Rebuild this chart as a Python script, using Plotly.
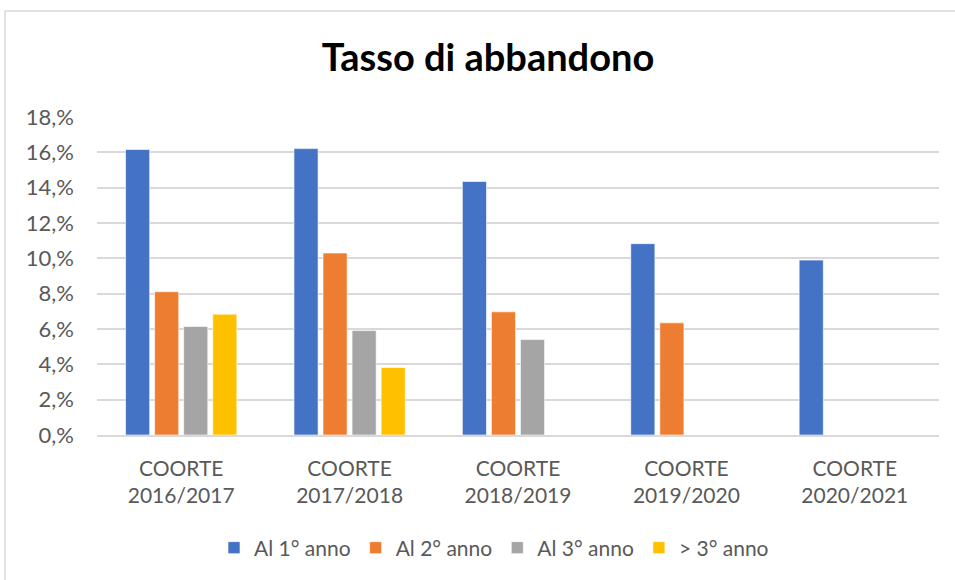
import plotly.graph_objects as go

categories = ["COORTE<br>2016/2017", "COORTE<br>2017/2018", "COORTE<br>2018/2019",
              "COORTE<br>2019/2020", "COORTE<br>2020/2021"]
series_names = ["Al 1° anno", "Al 2° anno", "Al 3° anno", "> 3° anno"]
al_1_anno = [16.16, 16.21, 14.35, 10.83, 9.90]
al_2_anno = [8.11, 10.30, 6.97, 6.35, None]
al_3_anno = [6.14, 5.91, 5.40, None, None]
oltre_3_anno = [6.84, 3.82, None, None, None]
tick_values = [0, 2, 4, 6, 8, 10, 12, 14, 16, 18]
tick_labels = [f"{v},%" for v in tick_values]

colors = ["#4472C4", "#ED7D31", "#A5A5A5", "#FFC000"]
series = [al_1_anno, al_2_anno, al_3_anno, oltre_3_anno]

FONT = "Lato"
fig = go.Figure()
for name, vals, col in zip(series_names, series, colors):
    fig.add_trace(go.Bar(
        x=categories, y=vals, name=name,
        marker=dict(color=col, line=dict(color="rgba(255,255,255,0.6)", width=1)),
    ))

# plot area in px: x 97..939, y 117..435
L, R, T, B = 97, 16, 117, 145
pw, ph = 955 - L - R, 580 - T - B

def px_x(x):
    return (x - L) / pw

def px_y(y):
    return (580 - B - y) / ph

fig.update_layout(
    width=955, height=580,
    margin=dict(l=L, r=R, t=T, b=B),
    paper_bgcolor="white", plot_bgcolor="white",
    barmode="group", bargap=0.31, bargroupgap=0.17,
    font=dict(family=FONT, color="#595959"),
    title=dict(text="<b>Tasso di abbandono</b>", x=0.511, xanchor="center",
               y=1 - 58 / 580, yanchor="middle", yref="container",
               font=dict(family=FONT, size=38, color="#000000")),
    showlegend=True,
    legend=dict(orientation="h", x=px_x(494), xanchor="center", y=px_y(548),
                yanchor="middle", font=dict(family=FONT, size=21, color="#595959"),
                itemwidth=30, traceorder="normal"),
    shapes=[dict(type="rect", xref="paper", yref="paper",
                 x0=px_x(5), x1=px_x(975), y0=px_y(600), y1=px_y(11),
                 line=dict(color="#D9D9D9", width=1.5), fillcolor="rgba(0,0,0,0)",
                 layer="below")],
)
fig.update_xaxes(
    showgrid=False, showline=True, linecolor="#D9D9D9", linewidth=1.5,
    ticks="", tickfont=dict(family=FONT, size=21, color="#595959"),
    ticklabelstandoff=14,
)
fig.update_yaxes(
    range=[0, 18], tickvals=tick_values, ticktext=tick_labels,
    showgrid=True, gridcolor="#D9D9D9", gridwidth=1.5, zeroline=False,
    showline=False, ticks="", tickfont=dict(family=FONT, size=22, color="#595959"),
    ticklabelstandoff=22,
)

fig.write_html("out.html", config={"displayModeBar": False},
               post_script="document.body.style.margin='0';document.body.style.overflow='hidden';")
